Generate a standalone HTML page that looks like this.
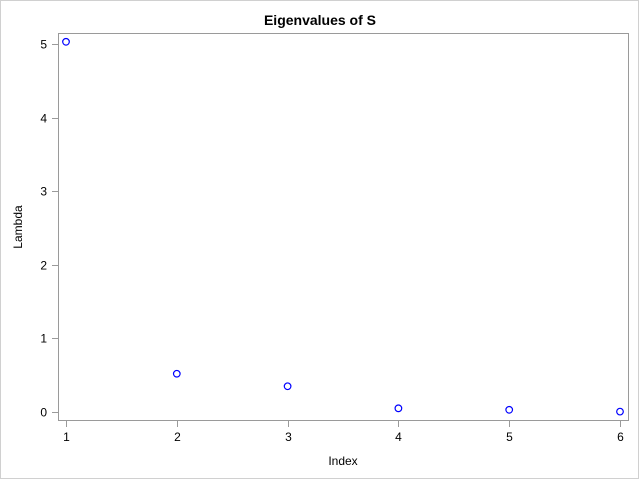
<!DOCTYPE html>
<html><head><style>
body{margin:0;background:#fff;}
svg text{font-family:"Liberation Sans",Arial,sans-serif;}
</style></head><body>
<svg width="640" height="480">
<rect x="0.5" y="0.5" width="638" height="478" fill="#fff" stroke="#d0d0d0"/>
<text x="320" y="25" text-anchor="middle" font-size="14" font-weight="bold">Eigenvalues of S</text>
<rect x="58.5" y="33.5" width="570" height="387" fill="none" stroke="#9a9a9a"/>
<g id="xaxis"></g>
<g id="yaxis"></g>
<text x="343" y="465" text-anchor="middle" font-size="12">Index</text>
<text transform="translate(22,227) rotate(-90)" text-anchor="middle" font-size="12">Lambda</text>
<g id="pts"></g>
</svg>
<script>
const indices=[1,2,3,4,5,6];
const lambdas=[5.03,0.52,0.35,0.05,0.03,0.005];
const xTicks=[1,2,3,4,5,6];
const yTicks=[0,1,2,3,4,5];
const NS="http://www.w3.org/2000/svg";
function sx(v){return 66+(v-1)*(620-66)/5;}
function sy(v){return 412-v*(412-44)/5;}
function mk(t,a,p){const e=document.createElementNS(NS,t);for(const k in a)e.setAttribute(k,a[k]);p.appendChild(e);return e;}
const xa=document.getElementById('xaxis'),ya=document.getElementById('yaxis'),pts=document.getElementById('pts');
xTicks.forEach(v=>{const x=Math.round(sx(v))+0.5;
const l=mk('line',{x1:x,x2:x,y1:421,y2:427,stroke:'#9a9a9a'},xa);


const t=mk('text',{x:x,y:441,'text-anchor':'middle','font-size':12},xa);t.textContent=v;

});
yTicks.forEach(v=>{const y=Math.round(sy(v))+0.5;
const l=mk('line',{x1:52,x2:58,y1:y,y2:y,stroke:'#9a9a9a'},ya);


const t=mk('text',{x:47,y:y+4,'text-anchor':'end','font-size':12},ya);t.textContent=v;

});
indices.forEach((v,i)=>{const c=mk('circle',{cx:sx(v),cy:sy(lambdas[i]),r:3.3,fill:'none',stroke:'#0000ff','stroke-width':1.2},pts);

});
</script>
</body></html>
